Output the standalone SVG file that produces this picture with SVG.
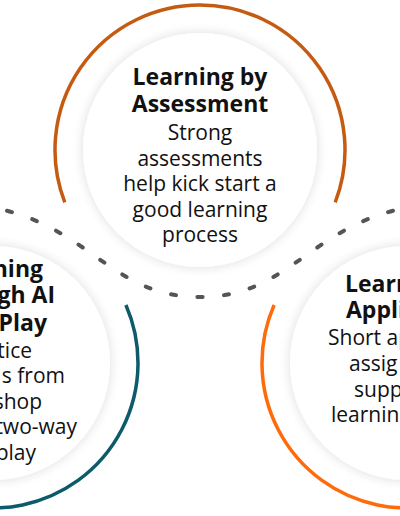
<svg xmlns="http://www.w3.org/2000/svg" width="400" height="516" viewBox="0 0 400 516">
<defs>
<filter id="sh" x="-30%" y="-30%" width="160%" height="160%">
<feGaussianBlur in="SourceAlpha" stdDeviation="6"/>
<feComponentTransfer><feFuncA type="linear" slope="0.14"/></feComponentTransfer>
<feMerge><feMergeNode/><feMergeNode in="SourceGraphic"/></feMerge>
</filter>
<style>
.disc{fill:#fff;filter:url(#sh)}
.arc{fill:none;stroke-width:3.5}
.dash{fill:none;stroke:#555;stroke-width:4;stroke-linecap:round;stroke-dasharray:5 21.5;stroke-dashoffset:2.5}
.b{font-family:"Open Sans","Liberation Sans",sans-serif;font-weight:700;font-size:23px;fill:#111}
.r{font-family:"Open Sans","Liberation Sans",sans-serif;font-size:21px;fill:#111}
</style>
</defs>
<rect width="400" height="516" fill="#fff"/>
<g id="node-assessment">
<circle class="disc" cx="200" cy="150" r="117"/>
<path class="arc" stroke="#c55a11" d="M 64.8 202.4 A 145 145 0 1 1 335.2 202.4"/>
<g text-anchor="middle">
<text class="b" x="200" y="85">Learning by</text>
<text class="b" x="200" y="112">Assessment</text>
<text class="r" x="200" y="140">Strong</text>
<text class="r" x="200" y="166">assessments</text>
<text class="r" x="200" y="191">help kick start a</text>
<text class="r" x="200" y="217">good learning</text>
<text class="r" x="200" y="242">process</text>
</g>
</g>
<g id="node-roleplay">
<circle class="disc" cx="-7" cy="363" r="117"/>
<path class="arc" stroke="#0d5a6b" d="M 125.9 305 A 145 145 0 1 1 -152 363"/>
<g text-anchor="end">
<text class="b" x="43" y="277">ning</text>
<text class="b" x="55" y="303">gh AI</text>
<text class="b" x="47" y="331">Play</text>
<text class="r" x="32" y="358">tice</text>
<text class="r" x="65" y="383">s from</text>
<text class="r" x="42" y="409">shop</text>
<text class="r" x="77" y="434">two-way</text>
<text class="r" x="36" y="460">play</text>
</g>
</g>
<g id="node-application">
<circle class="disc" cx="407" cy="363" r="117"/>
<path class="arc" stroke="#ff6a0a" d="M 274.1 305 A 145 145 0 1 0 552 363"/>
<text class="b" x="345" y="292">Learn</text>
<text class="b" x="346" y="318">Appli</text>
<text class="r" x="328" y="345">Short ap</text>
<text class="r" x="349" y="371">assig</text>
<text class="r" x="354" y="397">supp</text>
<text class="r" x="331" y="422">learnin</text>
</g>
<g id="connectors">
<path class="dash" d="M 200 297 C 110 297 90 225 -10 207"/>
<path class="dash" d="M 200 297 C 290 297 310 225 410 207"/>
</g>
</svg>
